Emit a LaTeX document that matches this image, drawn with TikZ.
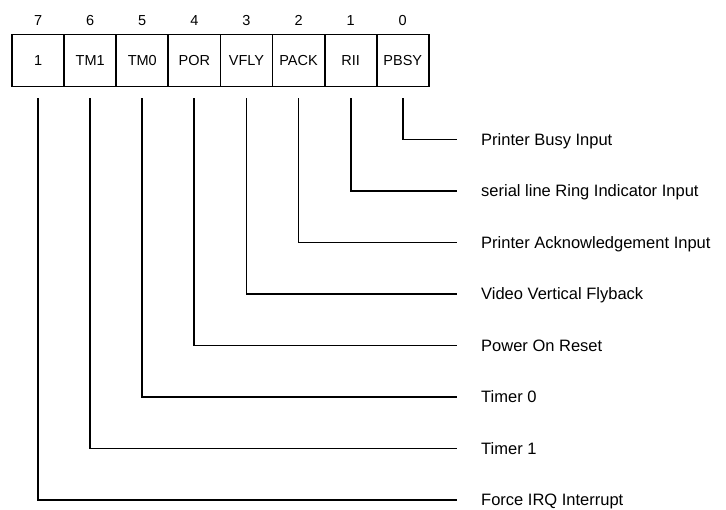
\documentclass[tikz,border=0pt]{standalone}
\usepackage{fontspec}
\setmainfont{Liberation Sans}
\usetikzlibrary{positioning}

\begin{document}
\begin{tikzpicture}[
          x=1pt, y=-1pt,
          bitbox/.style={draw, line width=1.8pt, minimum width=52.1pt,
                         minimum height=52pt, inner sep=0pt, outer sep=0pt,
                         font=\fontsize{14.5}{16}\selectfont},
          bitnum/.style={font=\fontsize{14.5}{16}\selectfont},
          desc/.style={anchor=west, inner sep=0pt, text height=11.8pt,
                       text depth=0pt, font=\fontsize{16.5}{18}\selectfont},
          wire/.style={line width=1.8pt}
        ]
        \useasboundingbox (0,0) rectangle (726,510);
        \foreach \b/\name [count=\i from 0] in
            {7/1, 6/TM1, 5/TM0, 4/POR, 3/VFLY, 2/PACK, 1/RII, 0/PBSY}
          {
          \node[bitbox] (b\b) at (38.05+52.1*\i, 60.5) {\name};
          \node[bitnum, above=5pt of b\b] (n\b) {\b};
          }
        \foreach \b/\txt in {0/Printer Busy Input,
            1/serial line Ring Indicator Input,
            2/Printer Acknowledgement Input, 3/Video Vertical Flyback,
            4/Power On Reset, 5/Timer 0, 6/Timer 1, 7/Force IRQ Interrupt}
          \node[desc] (d\b) at (481, 139.5+51.5*\b) {\txt};
        \foreach \b in {0,...,7}
          \draw[wire] ([yshift=-12pt]b\b.south) |- ([xshift=-24pt]d\b.west);
      \end{tikzpicture}
\end{document}
